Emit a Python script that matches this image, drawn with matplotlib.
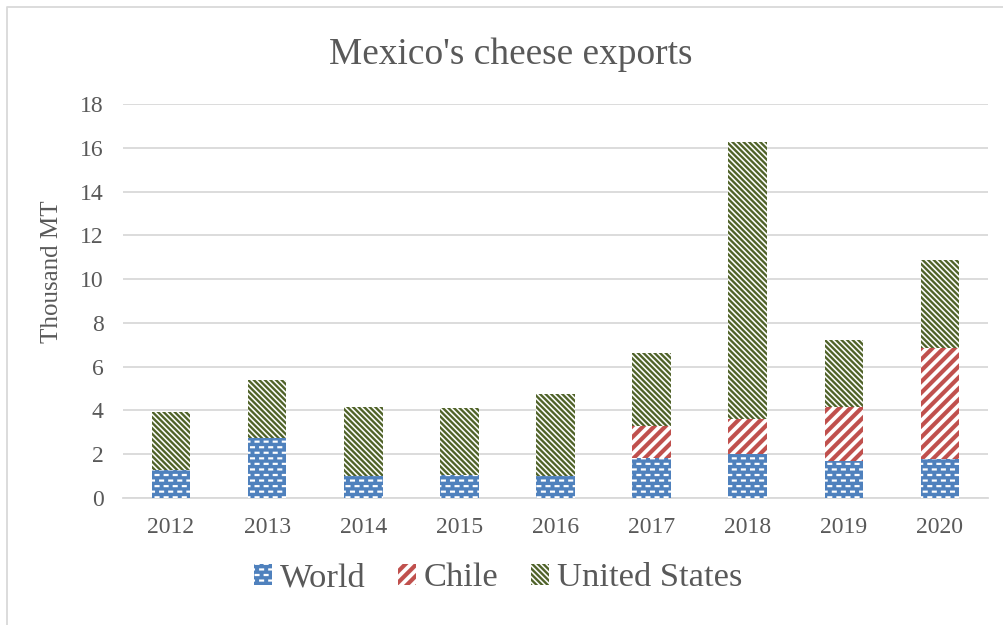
import numpy as np
import matplotlib
matplotlib.use("Agg")
import matplotlib.pyplot as plt
import matplotlib.hatch as mhatch
from matplotlib.path import Path
from matplotlib.lines import Line2D

# ---------------------------------------------------------------- data
years = ["2012", "2013", "2014", "2015", "2016", "2017", "2018", "2019", "2020"]
world = [1.28, 2.74, 1.02, 1.04, 1.00, 1.83, 2.03, 1.69, 1.80]
chile = [0.00, 0.00, 0.00, 0.00, 0.00, 1.45, 1.58, 2.47, 5.03]
united_states = [2.67, 2.64, 3.14, 3.07, 3.74, 3.35, 12.64, 3.08, 4.04]
series_names = ["World", "Chile", "United States"]
y_ticks = [0, 2, 4, 6, 8, 10, 12, 14, 16, 18]

# ---------------------------------------------------------------- Office-style fill patterns
def _stripes(sign, n, duty):
    """Filled diagonal stripes tiling the unit square, n per unit."""
    p = 1.0 / n
    w = duty * p
    y0, y1 = -0.02, 1.02
    polys = []
    if sign > 0:      # upward  "/"
        for k in range(-n - 2, n + 2):
            c = k * p
            polys.append([(c + y0, y0), (c + w + y0, y0),
                          (c + w + y1, y1), (c + y1, y1)])
    else:             # downward "\"
        for k in range(-2, 2 * n + 3):
            c = k * p
            polys.append([(c - y0, y0), (c + w - y0, y0),
                          (c + w - y1, y1), (c - y1, y1)])
    return polys


def _dash_bricks(cols=11, rows=18, dash_w=0.05, dash_h=0.021):
    """Staggered short horizontal dashes."""
    px = 1.0 / cols
    py = 1.0 / rows
    polys = []
    for r in range(rows):
        yc = (r + 0.5) * py
        off = (r % 2) * px * 0.5
        for j in range(-1, cols + 1):
            x0 = off + j * px
            polys.append([(x0, yc - dash_h / 2), (x0 + dash_w, yc - dash_h / 2),
                          (x0 + dash_w, yc + dash_h / 2), (x0, yc + dash_h / 2)])
    return polys


class OfficePatterns(mhatch.HatchPatternBase):
    def __init__(self, hatch, density):
        polys = []
        if "w" in hatch:
            polys += _dash_bricks()
        if "u" in hatch:
            polys += _stripes(+1, 9, 0.52)
        if "d" in hatch:
            polys += _stripes(-1, 18, 0.58)
        self.polys = polys
        self.num_vertices = 5 * len(polys)

    def set_vertices_and_codes(self, vertices, codes):
        for i, p in enumerate(self.polys):
            vertices[5 * i:5 * i + 4] = p
            vertices[5 * i + 4] = p[0]
            codes[5 * i] = Path.MOVETO
            codes[5 * i + 1:5 * i + 4] = Path.LINETO
            codes[5 * i + 4] = Path.CLOSEPOLY


mhatch._hatch_types.append(OfficePatterns)

import warnings
warnings.filterwarnings("ignore", message=".*hatch must consist.*")

# ---------------------------------------------------------------- style
plt.rcParams["font.family"] = ["Liberation Serif", "DejaVu Serif"]
plt.rcParams["hatch.linewidth"] = 0.05
TEXT = "#595959"
GRID = "#D9D9D9"
BLUE = "#4F81BD"
RED = "#C0504D"
GREEN = "#4F6228"

W, H = 1004, 625
fig = plt.figure(figsize=(W / 100, H / 100), dpi=100)
ax = fig.add_axes([123 / W, 1 - 498 / H, (988 - 123) / W, (498 - 104) / H])

x = np.arange(len(years))
bw = 0.4
world_a = np.array(world)
chile_a = np.array(chile)
us_a = np.array(united_states)

b1 = ax.bar(x, world_a, bw, color=BLUE, edgecolor="white", linewidth=0,
            hatch="w", label=series_names[0], zorder=3)
b2 = ax.bar(x, chile_a, bw, bottom=world_a, color="white", edgecolor=RED,
            linewidth=0, hatch="u", label=series_names[1], zorder=3)
b3 = ax.bar(x, us_a, bw, bottom=world_a + chile_a, color="white",
            edgecolor=GREEN, linewidth=0, hatch="d",
            label=series_names[2], zorder=3)

ax.set_xlim(-0.5, len(years) - 0.5)
ax.set_ylim(0, 18)
ax.set_yticks(y_ticks)
ax.set_xticks(x)
ax.set_xticklabels(years)
ax.yaxis.grid(True, color=GRID, linewidth=1.3, zorder=0)
ax.set_axisbelow(True)
for s in ["top", "right", "left"]:
    ax.spines[s].set_visible(False)
ax.spines["bottom"].set_color(GRID)
ax.spines["bottom"].set_linewidth(1.3)
ax.tick_params(axis="both", length=0, colors=TEXT, labelsize=17)
ax.tick_params(axis="y", pad=14)
ax.tick_params(axis="x", pad=14)

fig.text(511 / W, 1 - 64 / H, "Mexico's cheese exports", ha="center",
         va="baseline", fontsize=26.9, color=TEXT)
fig.text(52 / W, 1 - 272 / H, "Thousand MT", rotation=90, ha="center",
         va="center", fontsize=18, color=TEXT)

fig.legend(handles=[b1, b2, b3], loc="center",
           bbox_to_anchor=(498 / W, 1 - 578 / H), ncol=3, frameon=False,
           fontsize=24.8, labelcolor=TEXT, handlelength=0.53,
           handleheight=0.56, handletextpad=0.22, columnspacing=0.95,
           borderpad=0.2)

# chart area outline
fig.add_artist(Line2D([7 / W, 7 / W, 1.0], [0.0, 1 - 7 / H, 1 - 7 / H],
                      transform=fig.transFigure, color=GRID, linewidth=1.3))

fig.savefig("out.png", dpi=100)
